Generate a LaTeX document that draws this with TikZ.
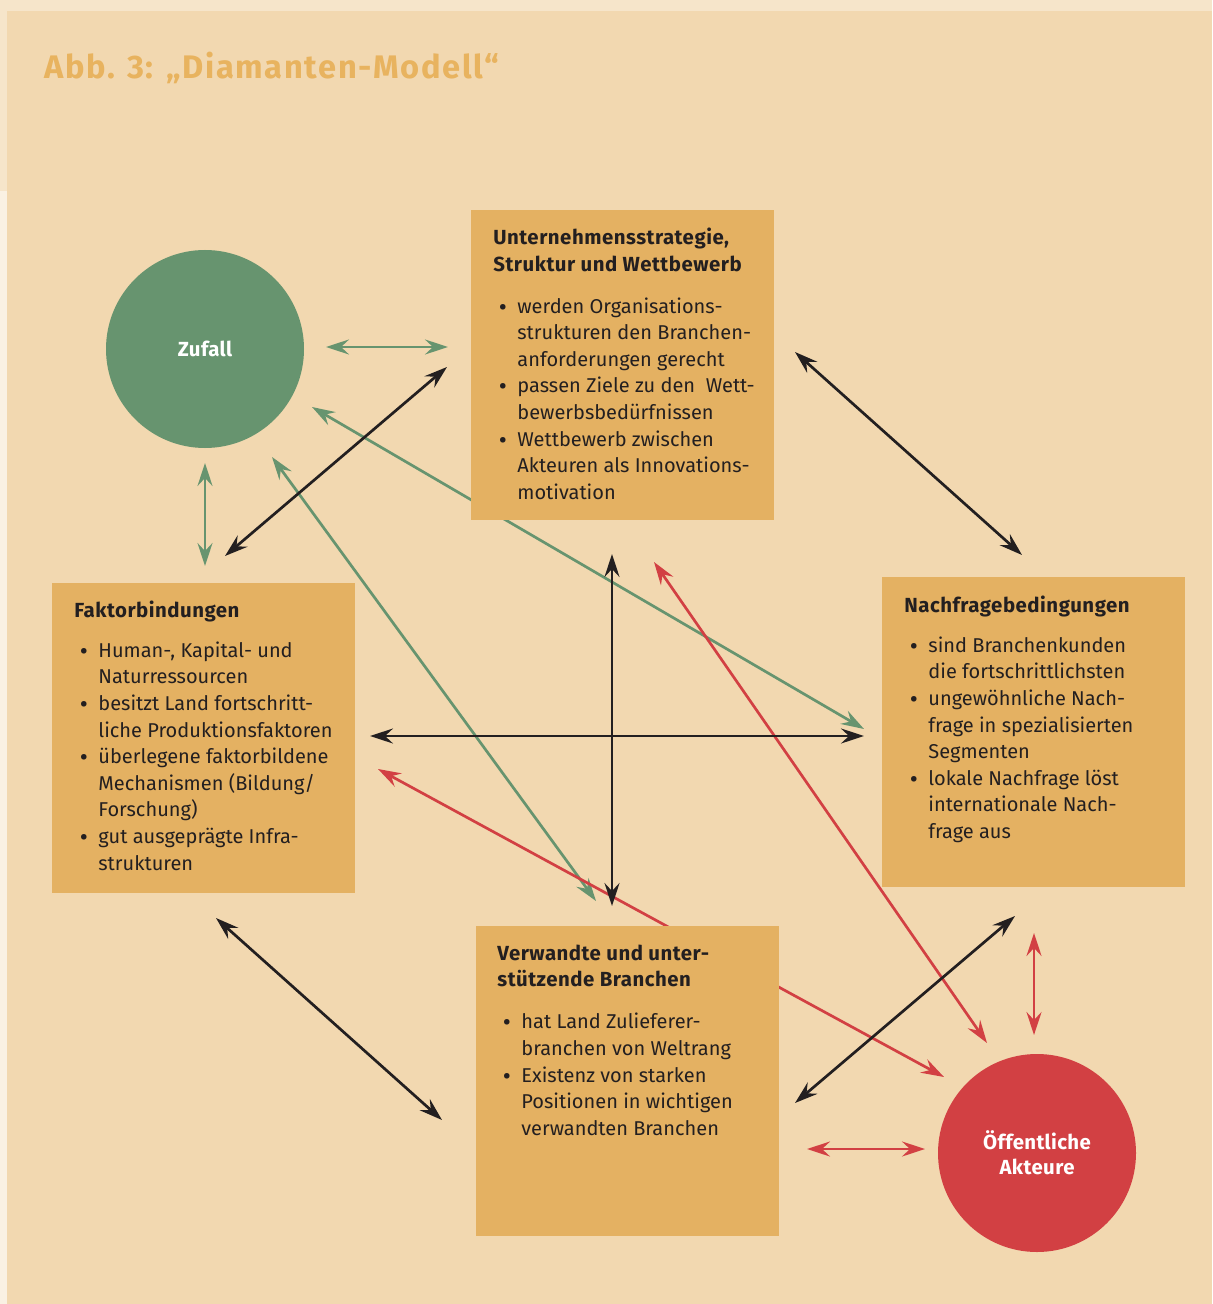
\documentclass[tikz,border=0pt]{standalone}
\usepackage{fontspec}
\setmainfont{Fira Sans}
\newfontfamily\bulletfont{PT Sans}
\usetikzlibrary{arrows.meta}

\definecolor{paper}{HTML}{F2D8B0}
\definecolor{band}{HTML}{F6E5CA}
\definecolor{strip}{HTML}{FAF1E3}
\definecolor{boxfill}{HTML}{E4B162}
\definecolor{titlecol}{HTML}{E8B35F}
\definecolor{ink}{HTML}{231F20}
\definecolor{chance}{HTML}{67946F}
\definecolor{public}{HTML}{D24043}

% heading row and bullet cell for the panel lists
\newcommand\hd[1]{\multicolumn{2}{@{}l@{}}{\bfseries\fontsize{10.2}{13.3}\selectfont\addfontfeatures{LetterSpace=2.5}#1}}
\newcommand\bp{\makebox[12pt][l]{\hspace{2.5pt}{\bulletfont\textbullet}}}

\tikzset{
  panel/.style={fill=boxfill, draw=none, anchor=north west, inner sep=0pt,
                minimum width=151.5pt, minimum height=155pt},
  paneltext/.style={anchor=base west, inner sep=0pt, text=ink,
                    font=\fontsize{10}{13.3}\selectfont},
  actor/.style={circle, draw=none, minimum size=99pt, inner sep=0pt,
                text=white, align=center,
                font=\bfseries\fontsize{10.2}{12.5}\selectfont\addfontfeatures{LetterSpace=2}},
  link/.style={{Stealth[length=11.5pt,width=7.5pt,inset=4pt]}-{Stealth[length=11.5pt,width=7.5pt,inset=4pt]},
               line width=1.35pt},
  blacklink/.style={link, draw=ink},
  greenlink/.style={link, draw=chance},
  redlink/.style={link, draw=public},
}

\begin{document}
\begin{tikzpicture}[x=0.5pt, y=-0.5pt]
  \useasboundingbox (0,0) rectangle (1212,1304);

  % page background
  \fill[band]  (0,0) rectangle (1212,1304);
  \fill[strip] (0,191) rectangle (7,1304);
  \fill[paper] (7,11) rectangle (1212,1304);

  \node[anchor=base west, inner sep=0pt, text=titlecol,
        font=\bfseries\fontsize{16.3}{18}\selectfont\addfontfeatures{LetterSpace=5}] (title) at (44,79)
        {Abb. 3: „Diamanten-Modell“};

  % connector end points
  \coordinate (b1a) at (225,556);  \coordinate (b1b) at (447,367);
  \coordinate (b2a) at (795,352);  \coordinate (b2b) at (1022,555);
  \coordinate (b3a) at (216,918);  \coordinate (b3b) at (442,1120);
  \coordinate (b4a) at (795,1103); \coordinate (b4b) at (1015,916);
  \coordinate (b5a) at (612,554);  \coordinate (b5b) at (612,906);
  \coordinate (b6a) at (370,736);  \coordinate (b6b) at (864,736);

  \coordinate (g1a) at (326,347);  \coordinate (g1b) at (448,347);
  \coordinate (g2a) at (205,463);  \coordinate (g2b) at (205,566);
  \coordinate (g3a) at (312,407);  \coordinate (g3b) at (864,729);
  \coordinate (g4a) at (272,457);  \coordinate (g4b) at (596,901);

  \coordinate (r1a) at (378,769);  \coordinate (r1b) at (944,1077);
  \coordinate (r2a) at (654,562);  \coordinate (r2b) at (987,1043);
  \coordinate (r3a) at (1034,933); \coordinate (r3b) at (1034,1035);
  \coordinate (r4a) at (807,1149); \coordinate (r4b) at (925,1149);

  % connectors (under the panels)
  \draw[greenlink] (g1a) -- (g1b);
  \draw[greenlink] (g2a) -- (g2b);
  \draw[greenlink] (g3a) -- (g3b);
  \draw[greenlink] (g4a) -- (g4b);

  \draw[redlink] (r1a) -- (r1b);
  \draw[redlink] (r2a) -- (r2b);
  \draw[redlink] (r3a) -- (r3b);
  \draw[redlink] (r4a) -- (r4b);

  \draw[blacklink] (b1a) -- (b1b);
  \draw[blacklink] (b2a) -- (b2b);
  \draw[blacklink] (b3a) -- (b3b);
  \draw[blacklink] (b4a) -- (b4b);
  \draw[blacklink] (b5a) -- (b5b);
  \draw[blacklink] (b6a) -- (b6b);

  % panels
  \node[panel] (strategy) at (471,210) {};
  \node[panel] (factors)  at (52,583)  {};
  \node[panel] (demand)   at (882,577) {};
  \node[panel] (related)  at (476,926) {};

  \node[paneltext] (strategytext) at (493,245) {%
    \begin{tabular}[t]{@{}l@{}l@{}}
      \hd{Unternehmensstrategie,}\\
      \hd{Struktur und Wettbewerb}\\[7.5pt]
      \bp & werden Organisations-\\
          & strukturen den Branchen-\\
          & anforderungen gerecht\\
      \bp & passen Ziele zu den\ \ Wett-\\
          & bewerbsbedürfnissen\\
      \bp & Wettbewerb zwischen\\
          & Akteuren als Innovations-\\
          & motivation
    \end{tabular}};

  \node[paneltext] (factorstext) at (74,617) {%
    \begin{tabular}[t]{@{}l@{}l@{}}
      \hd{Faktorbindungen}\\[6.8pt]
      \bp & Human-, Kapital- und\\
          & Naturressourcen\\
      \bp & besitzt Land fortschritt-\\
          & liche Produktionsfaktoren\\
      \bp & überlegene faktorbildene\\
          & Mechanismen (Bildung/\\
          & Forschung)\\
      \bp & gut ausgeprägte Infra-\\
          & strukturen
    \end{tabular}};

  \node[paneltext] (demandtext) at (904,612) {%
    \begin{tabular}[t]{@{}l@{}l@{}}
      \hd{Nachfragebedingungen}\\[6.8pt]
      \bp & sind Branchenkunden\\
          & die fortschrittlichsten\\
      \bp & ungewöhnliche Nach-\\
          & frage in spezialisierten\\
          & Segmenten\\
      \bp & lokale Nachfrage löst\\
          & internationale Nach-\\
          & frage aus
    \end{tabular}};

  \node[paneltext] (relatedtext) at (497,960) {%
    \begin{tabular}[t]{@{}l@{}l@{}}
      \hd{Verwandte und unter-}\\
      \hd{stützende Branchen}\\[7.8pt]
      \bp & hat Land Zulieferer-\\
          & branchen von Weltrang\\
      \bp & Existenz von starken\\
          & Positionen in wichtigen\\
          & verwandten Branchen
    \end{tabular}};

  % actors
  \node[actor, fill=chance] (chancenode) at (205,349) {Zufall};
  \node[actor, fill=public] (publicnode) at (1037,1153) {Öffentliche\\Akteure};
\end{tikzpicture}
\end{document}
